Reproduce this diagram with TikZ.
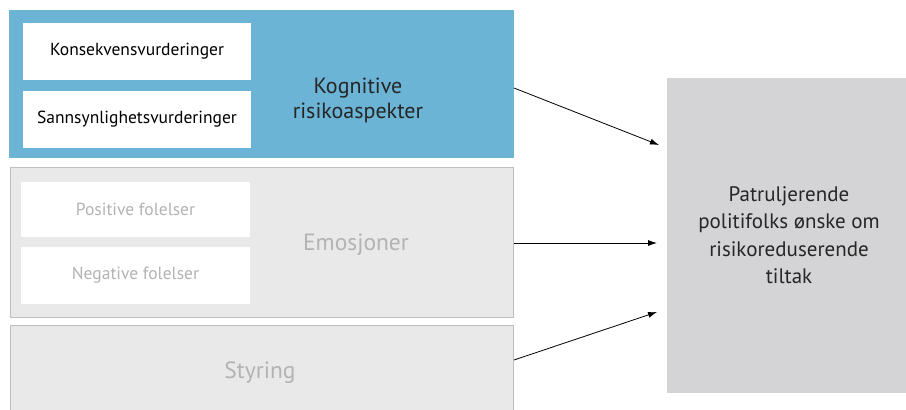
\documentclass[tikz,border=0pt]{standalone}
\usepackage{fontspec}
\setmainfont{PT Sans}
\usetikzlibrary{arrows.meta,calc}
\definecolor{kblue}{HTML}{6CB4D6}
\definecolor{egrey}{HTML}{E9E9E9}
\definecolor{eline}{HTML}{BEBEBE}
\definecolor{rgrey}{HTML}{D4D4D6}
\definecolor{ftext}{HTML}{B3B3B3}
\tikzset{
  box/.style={rectangle, anchor=north west, inner sep=0pt, outer sep=0pt},
  wbox/.style={box, fill=white, font=\fontsize{17.5}{20}\selectfont},
  lbl/.style={inner sep=0pt, align=center},
  arr/.style={-{Latex[length=9pt,width=6pt]}, line width=0.8pt, black}
}
\begin{document}
\begin{tikzpicture}[x=1pt,y=-1pt]
\useasboundingbox (0,0) rectangle (906,410);
\clip (0,0) rectangle (906,410);
\fill[white] (0,0) rectangle (906,410);
% blue group
\node[box, fill=kblue, minimum width=505pt, minimum height=148pt] (kog) at (9,10) {};
\node[wbox, minimum width=228pt, minimum height=57pt] (kons) at (23,23) {Konsekvensvurderinger};
\node[wbox, minimum width=228pt, minimum height=57pt] (sann) at (23,91) {Sannsynlighetsvurderinger};
\node[lbl, font=\fontsize{22}{25}\selectfont, text=black!85] (kogt) at (358,100) {Kognitive\\risikoaspekter};
% emotions group
\node[box, fill=egrey, draw=eline, line width=1pt, minimum width=503pt, minimum height=150pt] (emo) at (10,167) {};
\node[wbox, text=ftext, minimum width=229pt, minimum height=55pt] (pos) at (21,182) {Positive folelser};
\node[wbox, text=ftext, minimum width=229pt, minimum height=57pt] (neg) at (21,247) {Negative folelser};
\node[lbl, font=\fontsize{23.5}{25}\selectfont, text=ftext] (emot) at (356,245) {Emosjoner};
% styring
\node[box, fill=egrey, draw=eline, line width=1pt, minimum width=503pt, minimum height=100pt] (sty) at (10,325) {};
\node[lbl, font=\fontsize{23.5}{25}\selectfont, text=ftext] (styt) at (260,373) {Styring};
% right box
\node[box, fill=rgrey, minimum width=245pt, minimum height=315pt] (res) at (667,78) {};
\node[lbl, font=\fontsize{21}{27.5}\selectfont, text=black!85] (rest) at (789,235) {Patruljerende\\politifolks ønske om\\risikoreduserende\\tiltak};
% arrows
\coordinate (k1) at ($(kog.north east)+(0,78)$);
\coordinate (k2) at ($(res.north west)+(-8,67)$);
\coordinate (e1) at ($(emo.north east)+(1,76)$);
\coordinate (e2) at ($(res.north west)+(-10,165)$);
\coordinate (s1) at ($(sty.north east)+(1,35)$);
\coordinate (s2) at ($(res.north west)+(-10,234)$);
\draw[arr] (k1) -- (k2);
\draw[arr] (e1) -- (e2);
\draw[arr] (s1) -- (s2);
\end{tikzpicture}
\end{document}
